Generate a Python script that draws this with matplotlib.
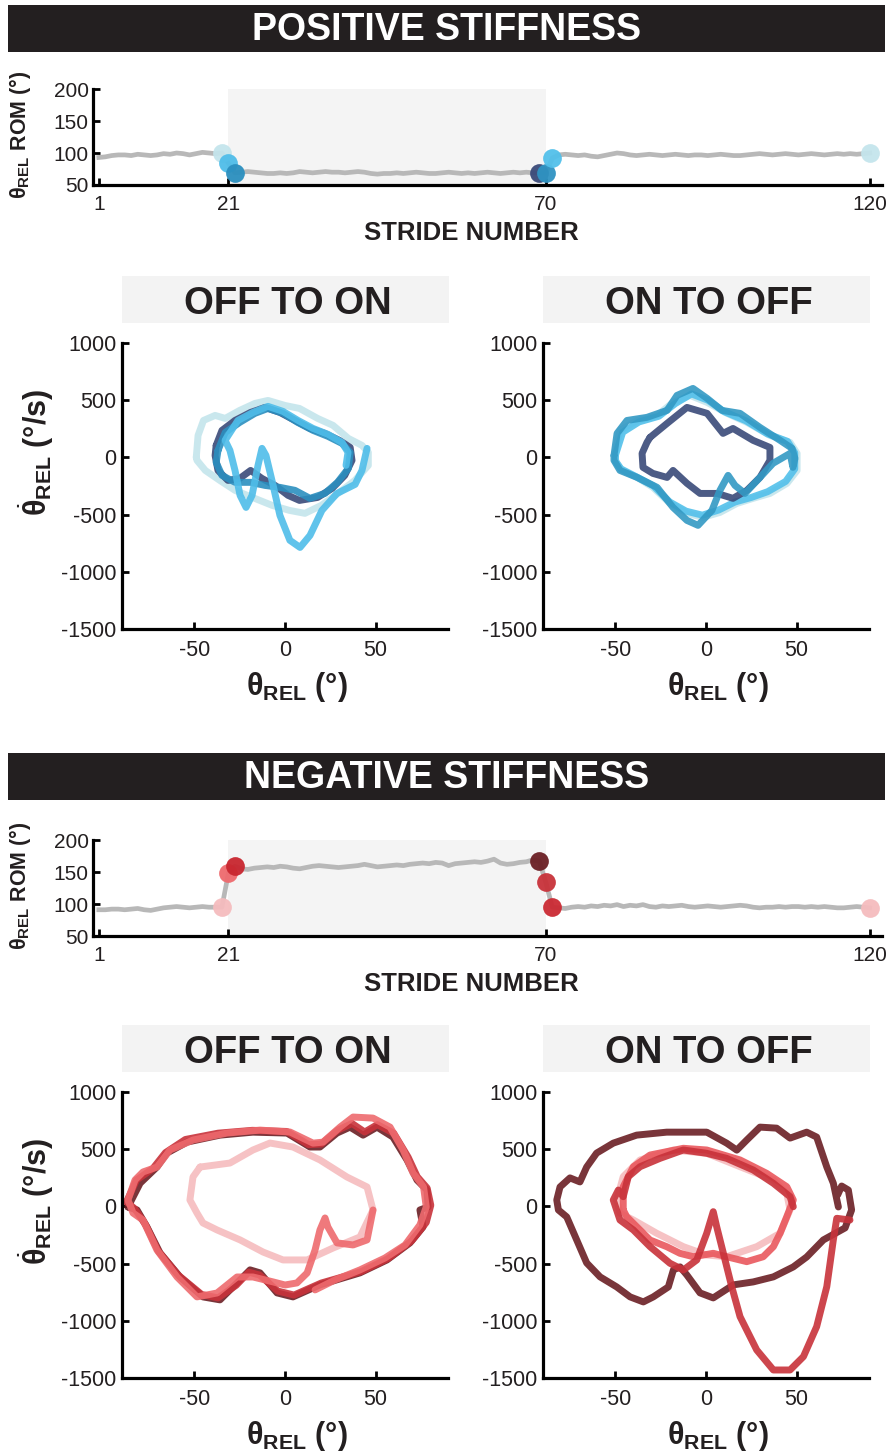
import numpy as np
import matplotlib
matplotlib.use("Agg")
import matplotlib.pyplot as plt
from matplotlib.patches import Rectangle

plt.rcParams["font.family"] = ["Liberation Sans", "DejaVu Sans"]
plt.rcParams["mathtext.fontset"] = "custom"
plt.rcParams["mathtext.rm"] = "Liberation Sans"
plt.rcParams["mathtext.bf"] = "Liberation Sans:bold"
plt.rcParams["mathtext.it"] = "Liberation Sans:italic"
plt.rcParams["mathtext.sf"] = "Liberation Sans"
plt.rcParams["axes.unicode_minus"] = False

# ---------------------------------------------------------------- data
stride_ticks = [1, 21, 70, 120]
rom_ticks = [50, 100, 150, 200]
omega_ticks = [-1500, -1000, -500, 0, 500, 1000]
theta_ticks = [-50, 0, 50]

# stride-by-stride range of motion (deg), positive stiffness session
pos_rom = [93, 94, 96, 97, 97, 96, 98, 97, 96, 97, 99, 98, 100, 99, 97, 99, 101, 100, 99, 100,
           84, 69,
           70, 71, 70, 69, 68, 68, 69, 68, 69, 71, 70, 69, 70, 71, 70, 70, 69, 70, 71, 70,
           68, 67, 68, 68, 69, 68, 69, 70, 69, 68, 68, 69, 70, 69, 68, 69, 68, 69, 70, 69,
           68, 69, 70, 69, 70, 69, 69,
           69, 92,
           97, 98, 97, 96, 97, 95, 94, 96, 98, 100, 99, 97, 96, 97, 98, 97, 96, 97, 98, 97,
           96, 97, 97, 96, 97, 98, 97, 96, 96, 97, 98, 99, 98, 97, 98, 99, 98, 97, 98, 99,
           98, 97, 98, 99, 98, 99, 98, 99, 100]

# stride-by-stride range of motion (deg), negative stiffness session
neg_rom = [91, 91, 92, 92, 91, 92, 93, 91, 90, 92, 94, 95, 96, 95, 94, 95, 96, 95, 95, 95,
           148, 159,
           155, 154, 156, 157, 158, 157, 159, 158, 156, 155, 157, 159, 160, 159, 158, 157,
           158, 159, 160, 162, 160, 158, 159, 160, 161, 160, 162, 163, 164, 163, 165, 164,
           160, 163, 164, 165, 166, 165, 167, 170, 164, 162, 163, 165, 166, 169,
           167, 134, 95,
           94, 93, 95, 96, 95, 97, 96, 98, 97, 99, 96, 98, 97, 99, 96, 95, 97, 96, 97, 98,
           96, 95, 96, 97, 96, 95, 96, 97, 98, 97, 95, 94, 95, 95, 96, 95, 96, 96, 95, 96,
           95, 96, 95, 94, 94, 95, 96, 95, 94]

marked_strides = [20, 21, 22, 69, 70, 71, 120]
pos_marker_colors = ["#c4e5ec", "#4fbde9", "#2b8fbf", "#3a4a79", "#2f93c2", "#52c0ea", "#c4e5ec"]
neg_marker_colors = ["#f5bcbe", "#ee6a6e", "#c8262f", "#6b1f24", "#c8323a", "#cb2a33", "#f5bcbe"]

# phase portraits: joint angle (deg) vs angular velocity (deg/s)
# positive stiffness, off -> on
pos_on_cyan_th = [-49, -48, -45, -38.6, -33, -25, -16.6, -9.4, 0, 8, 18, 26.5, 35, 42.5, 46, 46,
                  38.6, 30, 20, 11, 2.4, -7, -18, -27.6, -36, -44, -48.6]
pos_on_cyan_om = [0, 192, 323, 367, 341, 411, 472, 498, 454, 428, 341, 280, 166, 105, 44, -70,
                  -201, -306, -420, -489, -463, -420, -350, -288, -201, -114, -26]
pos_on_navy_th = [-38, -34.8, -27.6, -19, -11, -2.8, 5.5, 13.8, 22, 30, 36, 37, 33, 26, 18, 8,
                  1.7, -5.5, -12.7, -19, -25, -31.5, -37, -38.6]
pos_on_navy_om = [105, 236, 323, 393, 437, 393, 323, 253, 210, 149, 87, -26, -157, -271, -350,
                  -376, -332, -245, -184, -114, -184, -201, -114, 17]
pos_on_teal_th = [-37, -33, -25, -16.6, -9.4, -1, 7, 15.5, 23.7, 31.5, 36, 35, 29, 22, 13.8, 5.5,
                  -2.8, -11, -19, -27.6, -34.8, -38]
pos_on_teal_om = [61, 218, 306, 385, 428, 385, 306, 236, 184, 122, 44, -96, -218, -315, -358,
                  -288, -262, -245, -218, -218, -157, -44]
pos_on_blue_th = [45.3, 42.5, 38.7, 28.7, 20.4, 13.8, 8.3, 2.7, -2.8, -7.2, -10.5, -12.7, -14.9,
                  -18.2, -21.5, -24.8, -27.6, -30.4, -33.1, -26, -17.7, -9.4, -1.1, 7.2, 15.5,
                  23.8, 31.5, 34.8, 33.7]
pos_on_blue_om = [79, -114, -236, -315, -463, -682, -787, -725, -507, -201, 17, 79, -70, -332,
                  -437, -332, -114, 61, 149, 323, 393, 446, 402, 323, 253, 201, 131, 44, -70]

# positive stiffness, on -> off
pos_off_cyan_th = [-50.3, -47.5, -38, -27, -18.2, -8.8, 0.6, 11.6, 22.6, 35.3, 46.4, 50.3, 50.3,
                   44.7, 35.3, 26, 17.1, 7.7, -1.7, -10.5, -19.9, -29.3, -38, -46.4, -49.7]
pos_off_cyan_om = [35, 236, 323, 367, 481, 542, 481, 385, 306, 192, 131, 35, -114, -227, -315,
                   -358, -402, -481, -524, -489, -402, -262, -175, -114, -44]
pos_off_blue_th = [-50, -46, -37, -26, -17, -8, 1, 10, 22, 34, 45, 49, 49, 44, 34, 25, 16, 7, -2,
                   -11, -20, -29, -39, -47, -50]
pos_off_blue_om = [20, 220, 310, 360, 470, 555, 500, 400, 320, 205, 140, 40, -100, -210, -300,
                   -350, -390, -460, -505, -470, -390, -250, -165, -100, -30]
pos_off_navy_th = [-30.9, -21.5, -10.5, 0.6, 9.4, 14.9, 26, 35.3, 35.3, 29.8, 22.6, 14.9, 6.1,
                   -3.3, -10.5, -18.2, -21.5, -29.3, -34.8, -35.3, -32.6]
pos_off_navy_om = [175, 297, 437, 385, 210, 253, 149, 87, -26, -175, -288, -358, -315, -315,
                   -227, -114, -175, -140, -87, 35, 131]
pos_off_teal_th = [-50.8, -49.1, -43.6, -32.6, -21.5, -16, -7.2, 0.6, 8.8, 18.8, 29.8, 40.9, 47.5,
                   49.1, 48, 46.4, 37, 29.8, 21.5, 16, 12.2, 7.7, 3.3, -4.4, -10.5, -18.2, -27,
                   -38, -47.5, -50.8]
pos_off_teal_om = [17, 210, 323, 350, 411, 542, 603, 516, 411, 385, 262, 149, 79, -9, -87, 35,
                   -52, -175, -315, -245, -157, -288, -463, -594, -551, -437, -262, -175, -114, -26]

# negative stiffness, off -> on
neg_on_pink_th = [-46.9, -30.4, -17.7, -8.3, 4.4, 19.3, 34.2, 45.3, 48.6, 41.4, 26.5, 12.2, -1.1,
                  -12.1, -24.8, -37.5, -45.3, -48.6, -52.5, -50.8]
neg_on_pink_om = [344, 379, 493, 554, 519, 406, 257, 170, -31, -267, -364, -468, -468, -399,
                  -293, -206, -145, -58, 56, 257]
neg_on_maroon_th = [-86.7, -80, -70.7, -65.2, -54.1, -35.9, -17.7, 1.1, 13.8, 19.3, 28.7, 35.9,
                    43.1, 50.8, 59.6, 67.4, 72.9, 78.4, 79, 74.5, 76.2, 69, 56.3, 41.4, 19.3, 4.4,
                    -4.4, -13.8, -19.3, -26.5, -35.9, -45.3, -58, -69, -76.2, -81.7]
neg_on_maroon_om = [-5, 203, 344, 466, 562, 623, 649, 641, 519, 519, 641, 693, 623, 693, 606,
                    405, 230, 143, -5, -31, -180, -319, -468, -581, -686, -791, -756, -581, -555,
                    -669, -817, -791, -616, -407, -180, -31]
neg_on_red_th = [-87.5, -82, -73, -66, -55, -37, -18, 1, 13, 20, 29, 37, 44, 51, 60, 68, 73, 78.5,
                 80.5, 78, 70, 57, 42, 20, 5, -4, -14, -20, -27, -37, -46, -59, -70, -77, -83]
neg_on_red_om = [40, 230, 330, 470, 585, 640, 665, 655, 540, 545, 665, 725, 650, 715, 640, 430,
                 260, 160, 10, -140, -300, -455, -570, -670, -775, -740, -600, -575, -690, -800,
                 -770, -600, -390, -160, -20]
neg_on_salmon_th = [48.6, 45.3, 37.6, 28.7, 23.7, 22.1, 19.3, 16.6, 12.2, 6.6, 0, -6.6, -17.7,
                    -26.5, -37.5, -48.6, -59.6, -70.7, -78.4, -83.9, -86.7, -82.8, -78.4, -70.7,
                    -63.5, -50.8, -32, -13.8, 2.8, 15.5, 21, 30.4, 37.6, 48.6, 58, 65.2, 70.7,
                    76.5, 78, 74.5, 66.3, 55.2, 41.4, 27.6, 16.6]
neg_on_salmon_om = [-31, -293, -337, -319, -180, -101, -206, -381, -582, -669, -687, -660, -617,
                    -617, -757, -791, -617, -381, -119, -58, 56, 231, 301, 344, 493, 580, 641,
                    667, 650, 553, 562, 693, 781, 772, 693, 493, 292, 170, -5, -162, -337, -451,
                    -555, -643, -730]

# negative stiffness, on -> off
neg_off_pink_th = [-49.3, -45.7, -36.4, -18, 0.4, 18.8, 37.2, 44.6, 46.4, 40.9, 28, 11.4, 0.4,
                   -12.5, -27.2, -40.1, -47.5]
neg_off_pink_om = [56, 260, 406, 493, 464, 347, 231, 114, -31, -235, -352, -440, -425, -352,
                   -235, -119, -60]
neg_off_salmon_th = [-45.7, -43.8, -30.9, -21.7, -14.4, -7, 4, 11.4, 22.5, 31.6, 37.2, 40.9, 44.6,
                     48.2, 44.6, 33.5, 18.8, 0.4, -12.5, -30.9, -40.1, -45.7]
neg_off_salmon_om = [-31, -90, -294, -352, -410, -440, -410, -440, -483, -440, -352, -235, -90,
                     56, 172, 289, 406, 493, 508, 449, 347, 172]
neg_off_maroon_th = [72.7, 74.9, 78.6, 80.4, 76.8, 64.8, 55.6, 48.2, 37.2, 26.1, 15.1, 4, -3.3,
                     -10.6, -14.3, -18, -20.8, -29.1, -34.6, -41.9, -49.3, -58.5, -65.9, -71.4,
                     -76.9, -81.5, -82.4, -80.6, -75.1, -69.6, -65.9, -60.4, -51.2, -38.3, -21.7,
                     0.4, 11.4, 17, 22.5, 29.8, 39, 46.4, 55.6, 61.1, 66.7, 70.3, 73.1]
neg_off_maroon_om = [100, 178, 143, -31, -188, -293, -442, -529, -616, -660, -686, -800, -756,
                     -599, -529, -555, -704, -791, -835, -791, -704, -616, -494, -293, -92, -31,
                     56, 170, 249, 214, 344, 466, 553, 623, 649, 649, 553, 492, 580, 693, 684,
                     597, 649, 606, 344, 203, -5]
neg_off_red_th = [79.5, 72.2, 70.3, 66.7, 61.1, 53.8, 46.4, 37.2, 28, 18.8, 14.2, 9.6, 5.9, 4,
                  0.4, -5.1, -12.5, -19.9, -30.9, -40.1, -47.5, -51.2, -48.4, -45.7, -42.9, -36.4,
                  -25.4, -12.5, 0.4, 11.4, 26.1, 37.2, 46.4, 48.2]
neg_off_red_om = [-119, -104, -293, -701, -1051, -1313, -1430, -1430, -1255, -964, -701, -410,
                  -177, -46, -235, -468, -556, -497, -352, -206, -119, 56, 143, 85, 260, 347, 420,
                  493, 464, 420, 318, 202, 85, -3]

# ---------------------------------------------------------------- figure
W, H = 890, 1454
fig = plt.figure(figsize=(W / 100, H / 100), dpi=100)
INK = "#231f20"


def px_axes(x0, y0, x1, y1):
    return fig.add_axes([x0 / W, 1 - y1 / H, (x1 - x0) / W, (y1 - y0) / H])


def fig_rect(x0, y0, x1, y1, color):
    fig.add_artist(Rectangle((x0 / W, 1 - y1 / H), (x1 - x0) / W, (y1 - y0) / H,
                             transform=fig.transFigure, facecolor=color,
                             edgecolor="none", zorder=0))


def fig_text(x, y, s, **kw):
    return fig.text(x / W, 1 - y / H, s, **kw)


def style_axes(ax, fs):
    for side in ("top", "right"):
        ax.spines[side].set_visible(False)
    for side in ("left", "bottom"):
        ax.spines[side].set_linewidth(2.3)
        ax.spines[side].set_color("black")
    ax.tick_params(direction="in", length=5, width=2, labelsize=fs, colors="black",
                   labelcolor=INK)
    ax.set_facecolor("none")


def banner(y0, text):
    fig_rect(8, y0, 885, y0 + 47, INK)
    fig_text(447, y0 + 25, text, color="white", fontsize=27, fontweight="bold",
             ha="center", va="center")


def rom_panel(y0, rom, colors):
    ax = px_axes(93, y0, 882, y0 + 96)
    strides = np.arange(1, len(rom) + 1)
    ax.axvspan(21, 70, color="#f4f4f4", lw=0, zorder=0)
    ax.plot(strides, rom, color="#b8b8b8", lw=3.4, solid_joinstyle="round", zorder=2)
    for s, c in zip(marked_strides, colors):
        ax.plot(s, rom[s - 1], "o", ms=13.5, color=c, mec="none", alpha=0.95,
                zorder=3, clip_on=False)
    ax.set_xlim(0.1, 121.9)
    ax.set_ylim(50, 200)
    ax.set_xticks(stride_ticks)
    ax.set_yticks(rom_ticks)
    style_axes(ax, 15)
    ax.tick_params(axis="x", pad=7)
    ax.tick_params(axis="y", pad=3)
    fig_text(471, y0 + 144, "STRIDE NUMBER", fontsize=18.5, fontweight="bold",
             color=INK, ha="center", va="center")
    fig_text(20, y0 + 46, r"$\mathbf{\theta}_{\mathbf{REL}}$ ROM (°)", fontsize=15.5,
             fontweight="bold", color=INK, rotation=90, ha="center", va="center")
    return ax


def loop(ax, th, om, color, closed=True):
    th = list(th)
    om = list(om)
    if closed:
        th.append(th[0])
        om.append(om[0])
    ax.plot(th, om, color=color, lw=5.0, alpha=0.9, solid_joinstyle="round",
            solid_capstyle="round")


def phase_panel(x0, y0, title, curves, ylabel=True):
    fig_rect(x0, y0 - 67, x0 + 327, y0 - 20, "#f3f3f3")
    fig_text(x0 + 166, y0 - 39, title, fontsize=27.5, fontweight="bold", color=INK,
             ha="center", va="center")
    ax = px_axes(x0, y0, x0 + 326, y0 + 286)
    for th, om, c, closed in curves:
        loop(ax, th, om, c, closed)
    ax.set_xlim(-90, 90)
    ax.set_ylim(-1500, 1000)
    ax.set_xticks(theta_ticks)
    ax.set_yticks(omega_ticks)
    style_axes(ax, 15.5)
    ax.tick_params(axis="x", pad=8)
    ax.tick_params(axis="y", pad=4)
    fig_text(x0 + 175, y0 + 344, r"$\mathbf{\theta}_{\mathbf{REL}}$ (°)", fontsize=22,
             fontweight="bold", color=INK, ha="center", va="center")
    if ylabel:
        fig_text(36, y0 + 109, r"$\dot{\mathbf{\theta}}_{\mathbf{REL}}$ (°/s)", fontsize=22,
                 fontweight="bold", color=INK, rotation=90, ha="center", va="center")
    return ax


# positive stiffness block
banner(5, "POSITIVE STIFFNESS")
rom_panel(89, pos_rom, pos_marker_colors)
phase_panel(122, 343, "OFF TO ON", [
    (pos_on_cyan_th, pos_on_cyan_om, "#c4e5ec", True),
    (pos_on_navy_th, pos_on_navy_om, "#3a4a79", True),
    (pos_on_teal_th, pos_on_teal_om, "#2b8fbf", True),
    (pos_on_blue_th, pos_on_blue_om, "#4fbde9", False),
])
phase_panel(543, 343, "ON TO OFF", [
    (pos_off_cyan_th, pos_off_cyan_om, "#c4e5ec", True),
    (pos_off_blue_th, pos_off_blue_om, "#52c0ea", True),
    (pos_off_navy_th, pos_off_navy_om, "#3a4a79", True),
    (pos_off_teal_th, pos_off_teal_om, "#3399c4", True),
], ylabel=False)

# negative stiffness block
banner(753, "NEGATIVE STIFFNESS")
rom_panel(840, neg_rom, neg_marker_colors)
phase_panel(122, 1092, "OFF TO ON", [
    (neg_on_pink_th, neg_on_pink_om, "#f5bcbe", True),
    (neg_on_maroon_th, neg_on_maroon_om, "#6b1f24", True),
    (neg_on_red_th, neg_on_red_om, "#c8323a", True),
    (neg_on_salmon_th, neg_on_salmon_om, "#ee6a6e", False),
])
phase_panel(543, 1092, "ON TO OFF", [
    (neg_off_pink_th, neg_off_pink_om, "#f5bcbe", True),
    (neg_off_salmon_th, neg_off_salmon_om, "#e9585d", True),
    (neg_off_maroon_th, neg_off_maroon_om, "#6b1f24", False),
    (neg_off_red_th, neg_off_red_om, "#c8323a", False),
], ylabel=False)

fig.savefig("out.png", dpi=100, facecolor="white")
